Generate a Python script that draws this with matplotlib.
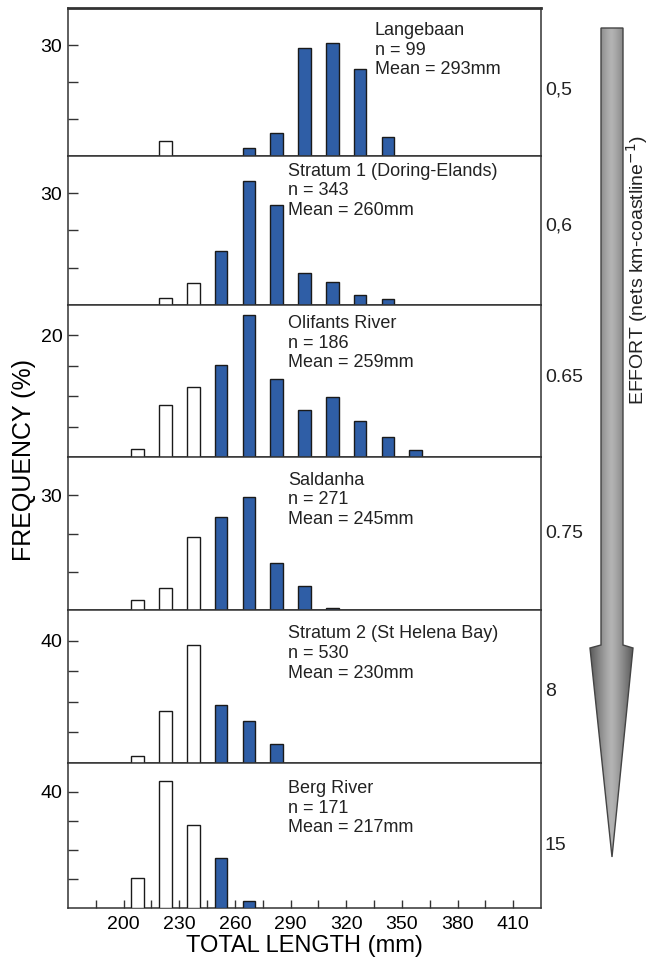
import matplotlib
matplotlib.use("Agg")
import matplotlib.pyplot as plt
import numpy as np
from matplotlib.patches import Polygon

plt.rcParams['font.family'] = ['Liberation Sans', 'DejaVu Sans']

# ---------------- data ----------------
sites = ["Langebaan", "Stratum 1 (Doring-Elands)", "Olifants River",
         "Saldanha", "Stratum 2 (St Helena Bay)", "Berg River"]
n_values = [99, 343, 186, 271, 530, 171]
mean_lengths = [293, 260, 259, 245, 230, 217]
effort_labels = ["0,5", "0,6", "0.65", "0.75", "8", "15"]

langebaan_len = [222.5, 267.5, 282.5, 297.5, 312.5, 327.5, 342.5]
langebaan_pct = [4.0, 2.2, 6.1, 29.3, 30.6, 23.4, 5.2]

stratum1_len = [222.5, 237.5, 252.5, 267.5, 282.5, 297.5, 312.5, 327.5, 342.5]
stratum1_pct = [2.0, 5.8, 14.6, 33.2, 26.8, 8.7, 6.3, 2.7, 1.5]

olifants_len = [207.5, 222.5, 237.5, 252.5, 267.5, 282.5, 297.5, 312.5, 327.5, 342.5, 357.5]
olifants_pct = [1.3, 8.6, 11.5, 15.2, 23.3, 12.9, 7.7, 9.8, 6.0, 3.3, 1.2]

saldanha_len = [207.5, 222.5, 237.5, 252.5, 267.5, 282.5, 297.5, 312.5]
saldanha_pct = [2.6, 5.8, 19.1, 24.3, 29.5, 12.3, 6.3, 0.4]

stratum2_len = [207.5, 222.5, 237.5, 252.5, 267.5, 282.5]
stratum2_pct = [2.2, 17.0, 38.5, 19.0, 13.8, 6.1]

berg_len = [207.5, 222.5, 237.5, 252.5, 267.5]
berg_pct = [10.4, 43.8, 28.6, 17.3, 2.5]

lengths = [langebaan_len, stratum1_len, olifants_len, saldanha_len, stratum2_len, berg_len]
percents = [langebaan_pct, stratum1_pct, olifants_pct, saldanha_pct, stratum2_pct, berg_pct]

y_max = [40, 40, 25, 40, 50, 50]
y_label_tick = [30, 30, 20, 30, 40, 40]
y_tick_step = [10, 10, 5, 10, 10, 10]

x_tick_labels = [200, 230, 260, 290, 320, 350, 380, 410]
size_limit = 245  # bars at or above drawn blue

# ---------------- layout ----------------
W, H = 650, 969
fig = plt.figure(figsize=(W / 100, H / 100), dpi=100)
fig.patch.set_facecolor('white')

left_px, right_px = 68, 541
bounds_px = [(8, 156), (156, 305), (305, 457), (457, 610), (610, 763), (763, 908)]
text_x = [0.649, 0.466, 0.466, 0.466, 0.466, 0.466]
text_y = [0.905, 0.955, 0.934, 0.903, 0.90, 0.883]

blue = '#2f5ea6'
axes = []
for i in range(6):
    t, b = bounds_px[i]
    ax = fig.add_axes([left_px / W, 1 - b / H, (right_px - left_px) / W, (b - t) / H])
    axes.append(ax)
    L = np.array(lengths[i])
    P = np.array(percents[i])
    colors = [blue if l >= size_limit else 'white' for l in L]
    ax.bar(L, P, width=6.8, color=colors, edgecolor='#1a1a1a', linewidth=1.0, zorder=3)
    ax.set_xlim(170, 425)
    ax.set_ylim(0, y_max[i])
    ticks = np.arange(y_tick_step[i], y_max[i] + 0.01, y_tick_step[i])
    ticks = ticks[ticks < y_max[i] - 0.01]
    ax.set_yticks(ticks)
    ax.set_yticklabels([str(int(v)) if v == y_label_tick[i] else '' for v in ticks])
    ax.tick_params(axis='y', direction='in', length=7, width=1, labelsize=14, pad=4,
                   color='#333333')
    ax.text(text_x[i], text_y[i],
            f"{sites[i]}\nn = {n_values[i]}\nMean = {mean_lengths[i]}mm",
            transform=ax.transAxes, ha='left', va='top', fontsize=13,
            linespacing=1.2, color='#222222')
    for s in ax.spines.values():
        s.set_linewidth(1.1)
        s.set_color('#333333')
    if i < 5:
        ax.set_xticks([])
    else:
        ax.set_xticks(np.arange(185, 425, 15), minor=True)
        ax.set_xticks(x_tick_labels)
        ax.tick_params(axis='x', which='both', direction='in', length=6, width=1,
                       labelsize=14, pad=6, color='#333333')
        ax.set_xlabel("TOTAL LENGTH (mm)", fontsize=17, labelpad=1)
axes[0].spines['top'].set_linewidth(2.0)

fig.text(24 / W, 1 - 460 / H, "FREQUENCY (%)", rotation=90, ha='center', va='center',
         fontsize=18)

# ---------------- effort arrow and labels ----------------
ov = fig.add_axes([0, 0, 1, 1], zorder=-1)
ov.set_xlim(0, W)
ov.set_ylim(H, 0)
ov.axis('off')

effort_y = [90, 226, 377, 533, 692, 846]
for lab, y in zip(effort_labels, effort_y):
    ov.text(545, y, lab, ha='left', va='center', fontsize=14, color='#222222')

arrow_pts = [(601, 28), (623, 28), (623, 645), (633, 648), (612, 857),
             (590, 648), (601, 645)]
poly = Polygon(arrow_pts, closed=True, facecolor='none', edgecolor='#444444',
               linewidth=1.0, zorder=3)
ov.add_patch(poly)
xs = np.linspace(-1, 1, 200)
grad = 1 - np.abs(xs) ** 1.3
grad = np.tile(grad, (10, 1))
img = ov.imshow(grad, extent=(590, 633, 857, 28), cmap='Greys_r', vmin=-0.9, vmax=2.3,
                aspect='auto', zorder=2, interpolation='bicubic')
img.set_clip_path(poly)

ov.text(637, 270, "EFFORT (nets km-coastline$^{-1}$)", rotation=90, ha='center',
        va='center', fontsize=14, color='#222222')

fig.savefig("out.png", dpi=100, facecolor='white')
